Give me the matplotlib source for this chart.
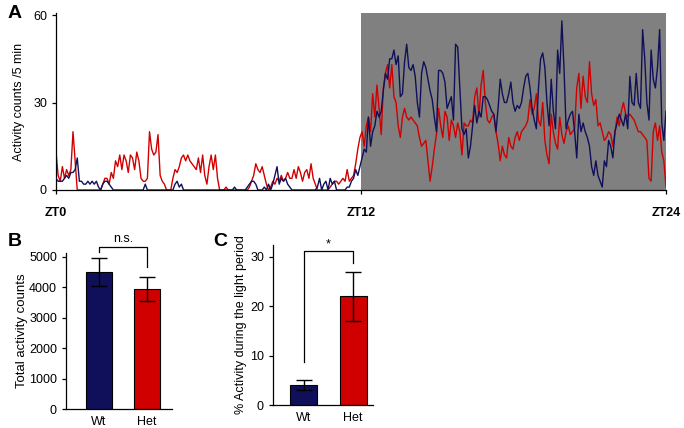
import numpy as np
import matplotlib
matplotlib.use("Agg")
import matplotlib.pyplot as plt

plt.rcParams['font.family'] = ['Liberation Sans', 'DejaVu Sans']

# Panel A: activity counts per 5 min bin (288 bins, ZT0 -> ZT24), one row = 2 h
wt_counts = [
    4, 3, 3, 3, 4, 5, 4, 6, 6, 7, 11, 3, 3, 2, 2, 3, 2, 3, 2, 3, 1, 0, 2, 3,
    3, 2, 1, 0, 0, 0, 0, 0, 0, 0, 0, 0, 0, 0, 0, 0, 0, 0, 2, 0, 0, 0, 0, 0,
    0, 0, 0, 0, 0, 0, 0, 0, 2, 3, 1, 2, 0, 0, 0, 0, 0, 0, 0, 0, 0, 0, 0, 0,
    0, 0, 0, 0, 0, 0, 0, 0, 0, 0, 0, 0, 1, 0, 0, 0, 0, 0, 1, 2, 3, 3, 2, 0,
    0, 0, 1, 0, 2, 0, 2, 5, 8, 2, 4, 3, 4, 2, 1, 0, 0, 0, 0, 0, 0, 0, 0, 0,
    0, 0, 0, 1, 4, 0, 2, 3, 0, 4, 2, 3, 0, 0, 0, 0, 0, 1, 1, 3, 4, 7, 5, 8,
    11, 14, 13, 25, 15, 20, 22, 27, 25, 27, 34, 40, 38, 45, 45, 48, 43, 46, 32, 33, 44, 50, 42, 41,
    43, 39, 30, 25, 40, 44, 42, 38, 34, 31, 25, 20, 41, 41, 40, 37, 28, 30, 32, 24, 50, 49, 35, 21,
    19, 21, 11, 15, 22, 29, 23, 27, 25, 32, 32, 31, 29, 27, 26, 20, 28, 38, 33, 30, 30, 33, 37, 30,
    27, 29, 28, 30, 35, 39, 40, 35, 28, 24, 21, 35, 45, 47, 42, 30, 22, 38, 27, 21, 48, 40, 58, 42,
    21, 24, 26, 27, 20, 11, 26, 20, 23, 20, 18, 15, 8, 5, 10, 5, 3, 1, 10, 8, 17, 15, 11, 20,
    23, 26, 24, 22, 26, 21, 39, 30, 29, 40, 30, 28, 55, 45, 30, 24, 48, 38, 35, 42, 55, 23, 17, 27,
]
het_counts = [
    13, 5, 3, 8, 4, 7, 5, 7, 20, 10, 0, 0, 0, 0, 0, 0, 0, 0, 0, 0, 0, 0, 2, 4,
    4, 2, 6, 4, 10, 8, 12, 7, 12, 10, 6, 12, 11, 7, 13, 10, 4, 3, 3, 4, 20, 14, 12, 13,
    19, 5, 3, 2, 0, 0, 0, 4, 7, 6, 8, 11, 12, 10, 12, 10, 9, 8, 7, 11, 6, 12, 5, 2,
    8, 12, 7, 12, 4, 0, 0, 0, 1, 0, 0, 0, 0, 0, 0, 0, 0, 0, 0, 1, 3, 5, 9, 7,
    6, 8, 5, 2, 0, 1, 3, 2, 4, 3, 5, 3, 4, 6, 4, 4, 7, 4, 8, 6, 3, 6, 7, 4,
    9, 4, 2, 0, 0, 0, 0, 0, 0, 1, 2, 3, 3, 2, 3, 4, 3, 7, 3, 4, 5, 9, 14, 18,
    20, 15, 22, 25, 20, 33, 25, 36, 28, 19, 35, 40, 43, 35, 43, 32, 30, 22, 18, 25, 28, 25, 24, 25,
    24, 23, 22, 18, 15, 16, 17, 10, 3, 8, 14, 19, 28, 22, 18, 27, 25, 17, 24, 22, 18, 23, 20, 12,
    23, 22, 22, 24, 23, 32, 35, 25, 36, 41, 30, 24, 23, 25, 26, 20, 16, 10, 15, 12, 11, 18, 15, 14,
    18, 20, 17, 20, 21, 22, 24, 31, 26, 28, 33, 24, 22, 30, 17, 12, 9, 26, 20, 16, 14, 25, 19, 16,
    20, 22, 19, 20, 21, 35, 40, 28, 39, 32, 30, 44, 33, 29, 31, 22, 23, 20, 17, 18, 20, 19, 15, 20,
    25, 22, 27, 30, 26, 25, 26, 25, 24, 22, 20, 20, 19, 18, 17, 4, 3, 20, 23, 17, 22, 13, 10, 1,
]
zt_ticks = [0, 12, 24]
zt_labels = ['ZT0', 'ZT12', 'ZT24']

# Panels B and C: group means with error bars
groups = ['Wt', 'Het']
total_counts = [4500, 3940]
total_err = [460, 400]
light_pct = [4.0, 22.0]
light_err = [1.0, 5.0]

navy = '#10105a'
red = '#d10000'

fig = plt.figure(figsize=(6.84, 4.28), dpi=100)


def clean_axes(ax):
    ax.spines['top'].set_visible(False)
    ax.spines['right'].set_visible(False)
    for s in ['left', 'bottom']:
        ax.spines[s].set_linewidth(0.9)
    ax.tick_params(direction='out', length=3, width=0.9, labelsize=9)


# ---- Panel A: activity trace ----
ax_a = fig.add_axes([56 / 684, 1 - 190 / 428, 610 / 684, 177 / 428])
hours = np.linspace(0, 24, len(wt_counts))
ax_a.axvspan(12, 24, color='#808080', lw=0, zorder=0)
ax_a.plot(hours, wt_counts, color=navy, lw=1.0, zorder=3)
ax_a.plot(hours, het_counts, color=red, lw=1.0, zorder=2)
ax_a.set_xlim(0, 24)
ax_a.set_ylim(0, 60.7)
ax_a.set_yticks([0, 30, 60])
ax_a.set_xticks(zt_ticks)
ax_a.set_xticklabels(zt_labels, fontweight='bold')
clean_axes(ax_a)
ax_a.tick_params(axis='x', pad=9)
ax_a.set_ylabel('Activity counts /5 min', fontsize=9, labelpad=6)

# ---- Panel B: total activity ----
ax_b = fig.add_axes([66 / 684, 19 / 428, 106 / 684, 156 / 428])
pos = np.arange(len(groups))
ax_b.bar(pos, total_counts, width=0.54, color=[navy, red], edgecolor='black', lw=0.8)
ax_b.errorbar(pos, total_counts, yerr=total_err, fmt='none', ecolor='black',
              elinewidth=1.0, capsize=6, capthick=1.0)
ax_b.set_xlim(-0.69, 1.52)
ax_b.set_ylim(0, 5120)
ax_b.set_yticks(range(0, 5001, 1000))
ax_b.set_xticks(pos)
ax_b.set_xticklabels(groups)
clean_axes(ax_b)
ax_b.tick_params(axis='x', length=0, pad=5)
ax_b.set_ylabel('Total activity counts', fontsize=9.5, labelpad=1)
ax_b.plot([0, 0, 1, 1], [5160, 5320, 5320, 4660], color='black', lw=0.9, clip_on=False)
ax_b.text(0.5, 5390, 'n.s.', ha='center', va='bottom', fontsize=9)

# ---- Panel C: % activity during light period ----
ax_c = fig.add_axes([273 / 684, 23 / 428, 100 / 684, 160 / 428])
ax_c.bar(pos, light_pct, width=0.545, color=[navy, red], edgecolor='black', lw=0.8)
ax_c.errorbar(pos, light_pct, yerr=light_err, fmt='none', ecolor='black',
              elinewidth=1.0, capsize=6, capthick=1.0)
ax_c.set_xlim(-0.62, 1.4)
ax_c.set_ylim(0, 32.4)
ax_c.set_yticks([0, 10, 20, 30])
ax_c.set_xticks(pos)
ax_c.set_xticklabels(groups)
clean_axes(ax_c)
ax_c.tick_params(axis='x', length=0, pad=5)
ax_c.set_ylabel('% Activity during the light period', fontsize=9, labelpad=2)
ax_c.plot([0, 0, 1, 1], [8.8, 31.2, 31.2, 28.8], color='black', lw=0.9, clip_on=False)
ax_c.text(0.5, 31.4, '*', ha='center', va='bottom', fontsize=9)

# panel letters
fig.text(8 / 684, 1 - 14 / 428, 'A', fontsize=14, fontweight='bold', va='center')
fig.text(8 / 684, 1 - 241 / 428, 'B', fontsize=14, fontweight='bold', va='center')
fig.text(213 / 684, 1 - 241 / 428, 'C', fontsize=14, fontweight='bold', va='center')

fig.savefig('out.png', dpi=100)
